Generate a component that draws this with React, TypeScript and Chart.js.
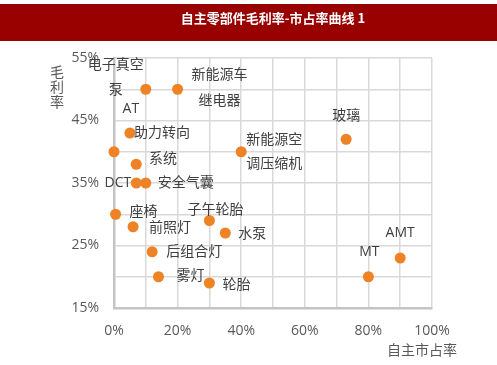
import React, { useEffect, useRef } from "react";
import { Chart, registerables } from "chart.js";

Chart.register(...registerables);

const chartTitle = "自主零部件毛利率-市占率曲线 1";
const xAxisTitle = "自主市占率";
const yAxisTitle = ["毛", "利", "率"];

const pointNames = [
  "电子真空泵", "新能源车继电器", "AT", "助力转向系统", "", "DCT", "安全气囊", "座椅", "前照灯",
  "子午轮胎", "水泵", "后组合灯", "雾灯", "轮胎", "新能源空调压缩机", "玻璃", "AMT", "MT",
];
const marketShare = [10, 20, 5, 0, 7, 7, 10, 0.5, 6, 30, 35, 12, 14, 30, 40, 73, 90, 80];
const grossMargin = [50, 50, 43, 40, 38, 35, 35, 30, 28, 29, 27, 24, 20, 19, 40, 42, 23, 20];

const xTickLabels = [0, 20, 40, 60, 80, 100];
const yTickLabels = [15, 25, 35, 45, 55];

// label placement (text line, dx, dy, align) per point — styling only
type LabelLine = [string, number, number, CanvasTextAlign];
const labelLayout: LabelLine[][] = [
  [["电子真空", -58, -24, "left"], ["泵", -37, 1, "left"]],
  [["新能源车", 14, -14, "left"], ["继电器", 21, 12, "left"]],
  [["AT", 1, -24, "center"]],
  [["助力转向", 20, -19, "left"], ["系统", 35, 7, "left"]],
  [],
  [["DCT", -5, 0, "right"]],
  [["安全气囊", 12, 0, "left"]],
  [["座椅", 14, -2, "left"]],
  [["前照灯", 16, 1, "left"]],
  [["子午轮胎", 6, -10, "center"]],
  [["水泵", 13, 1, "left"]],
  [["后组合灯", 14, 0, "left"]],
  [["雾灯", 18, -1, "left"]],
  [["轮胎", 13, 2, "left"]],
  [["新能源空", 5, -12, "left"], ["调压缩机", 5, 12, "left"]],
  [["玻璃", 0, -23, "center"]],
  [["AMT", 0, -25, "center"]],
  [["MT", 1, -25, "center"]],
];

const FONT_FAMILY = "'Open Sans', 'Noto Sans CJK SC', sans-serif";
const ORANGE = "#EE8326";
const GRID = "#d9d9d9";
const AXIS = "#c4c4c4";
const TICK_COLOR = "#595959";
const LABEL_COLOR = "#404040";

const overlayPlugin = {
  id: "overlay",
  beforeDraw(chart: any) {
    const ctx = chart.ctx;
    ctx.save();
    ctx.fillStyle = "#ffffff";
    ctx.fillRect(0, 0, chart.width, chart.height);
    ctx.fillStyle = "#990000";
    ctx.fillRect(0, 4, chart.width, 37);
    ctx.fillStyle = "#ffffff";
    ctx.font = `bold 13px 'Noto Sans CJK SC', sans-serif`;
    ctx.textAlign = "center";
    ctx.textBaseline = "middle";
    ctx.fillText(chartTitle, 273, 18);
    ctx.restore();
  },
  afterDatasetsDraw(chart: any) {
    const ctx = chart.ctx;
    const meta = chart.getDatasetMeta(0);
    ctx.save();
    ctx.font = `14px ${FONT_FAMILY}`;
    ctx.fillStyle = LABEL_COLOR;
    ctx.textBaseline = "middle";
    meta.data.forEach((pt: any, i: number) => {
      (labelLayout[i] || []).forEach(([text, dx, dy, align]) => {
        ctx.textAlign = align;
        ctx.fillText(text, pt.x + dx, pt.y + dy);
      });
    });
    // axis titles
    ctx.fillStyle = TICK_COLOR;
    ctx.textAlign = "center";
    yAxisTitle.forEach((ch, i) => ctx.fillText(ch, 57, 73 + i * 15));
    ctx.textAlign = "right";
    ctx.fillText(xAxisTitle, 457, 351);
    ctx.restore();
  },
};

export default function App() {
  const canvasRef = useRef<HTMLCanvasElement | null>(null);

  useEffect(() => {
    document.body.style.margin = "0";
    const canvas = canvasRef.current;
    if (!canvas) return;
    const chart = new Chart(canvas, {
      type: "scatter",
      data: {
        datasets: [
          {
            label: "毛利率",
            data: marketShare.map((x, i) => ({ x, y: grossMargin[i] })),
            backgroundColor: ORANGE,
            borderColor: ORANGE,
            borderWidth: 0,
            pointRadius: 5.5,
            pointHoverRadius: 5.5,
            clip: false,
          },
        ],
      },
      options: {
        responsive: false,
        animation: false,
        devicePixelRatio: 1,
        layout: { padding: { left: 0, top: 58, right: 65, bottom: 0 } },
        plugins: { legend: { display: false }, tooltip: { enabled: false } },
        scales: {
          x: {
            type: "linear",
            min: 0,
            max: 100,
            afterFit: (s: any) => {
              s.height = 57;
            },
            grid: { color: GRID, lineWidth: 1.5, drawTicks: false },
            border: { color: AXIS, width: 2.5 },
            ticks: {
              stepSize: 10,
              autoSkip: false,
              maxRotation: 0,
              padding: 15,
              color: TICK_COLOR,
              font: { family: FONT_FAMILY, size: 14 },
              callback: (v: any) => (xTickLabels.includes(Number(v)) ? `${v}%` : ""),
            },
          },
          y: {
            type: "linear",
            min: 15,
            max: 55,
            afterFit: (s: any) => {
              s.width = 114;
            },
            grid: { color: GRID, lineWidth: 1.5, drawTicks: false },
            border: { color: AXIS, width: 2.5 },
            ticks: {
              stepSize: 5,
              autoSkip: false,
              padding: 15,
              color: TICK_COLOR,
              font: { family: FONT_FAMILY, size: 14 },
              callback: (v: any) => (yTickLabels.includes(Number(v)) ? `${v}%` : ""),
            },
          },
        },
      },
      plugins: [overlayPlugin],
    } as any);
    return () => chart.destroy();
  }, []);

  return (
    <div style={{ position: "absolute", left: 0, top: 0, width: 497, height: 365 }}>
      <canvas ref={canvasRef} width={497} height={365} style={{ width: 497, height: 365, display: "block" }} />
    </div>
  );
}
